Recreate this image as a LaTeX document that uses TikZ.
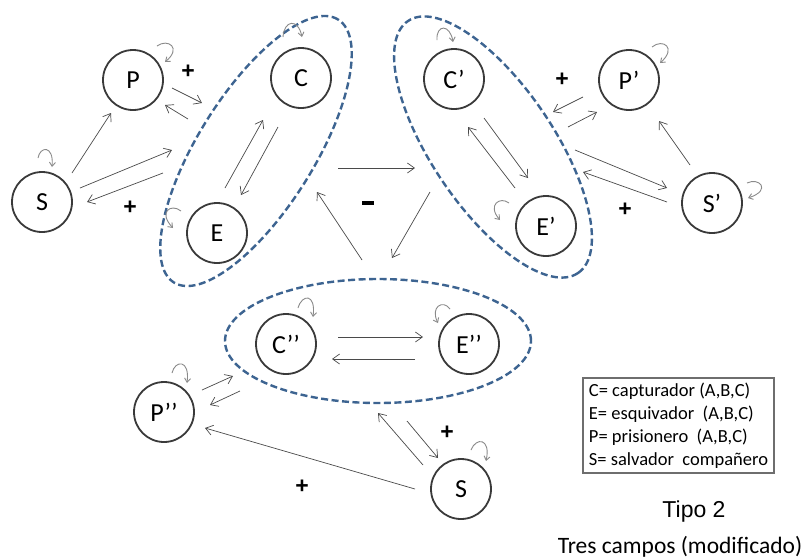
\documentclass[tikz,border=0pt]{standalone}
\usepackage{fontspec}
\setmainfont{Carlito}
\newfontfamily\arialfont{Liberation Sans}
\usetikzlibrary{arrows.meta,calc,shapes.geometric}
\definecolor{nodegray}{HTML}{3A3A3A}
\definecolor{groupblue}{HTML}{3D6491}
\definecolor{arrowgray}{HTML}{4A4A4A}
\definecolor{loopgray}{HTML}{8A8A8A}
\definecolor{keygray}{HTML}{6E6E6E}
\begin{document}
\begin{tikzpicture}[x=1pt,y=-1pt,
  agent/.style={circle, draw=nodegray, line width=1.8pt, minimum size=60pt, inner sep=0pt,
    font=\fontsize{26}{30}\selectfont},
  group/.style={ellipse, draw=groupblue, line width=2.4pt, dash pattern=on 7pt off 3.5pt,
    inner sep=0pt, outer sep=0pt},
  arr/.style={draw=arrowgray, line width=0.7pt,
    -{Straight Barb[length=7pt,width=10pt,line width=0.7pt]}},
  selfloop/.style={draw=loopgray, line width=0.9pt,
    -{Straight Barb[length=4pt,width=6pt,line width=0.9pt]}},
  sign/.style={font=\arialfont\bfseries\fontsize{23}{26}\selectfont, inner sep=0pt},
]
\useasboundingbox (0,0) rectangle (808,558);
\fill[white] (0,0) rectangle (808,558);

% groups of players
\node[group, minimum width=310pt, minimum height=116pt, rotate=58] (G1) at (256,151) {};
\node[group, minimum width=304pt, minimum height=122pt, rotate=-56] (G2) at (493,147) {};
\node[group, minimum width=306pt, minimum height=124pt] (G3) at (378,341) {};

% players
\node[agent] (P)   at (133,80)  {P};
\node[agent] (C)   at (301,78)  {C};
\node[agent] (S)   at (42,202)  {S};
\node[agent] (E)   at (217,233) {E};
\node[agent] (Cp)  at (454,79)  {C’};
\node[agent] (Pp)  at (629,80)  {P’};
\node[agent] (Sp)  at (712,203) {S’};
\node[agent] (Ep)  at (546,226) {E’};
\node[agent] (Cpp) at (286,344) {C’’};
\node[agent] (Epp) at (469,344) {E’’};
\node[agent] (Ppp) at (164,412) {P’’};
\node[agent] (Sb)  at (461,489) {S};

% first field
\draw[arr] ($(S)+(30,-29)$) -- ($(P)+(-22,33)$);
\draw[arr] ($(S)+(38,-14)$) -- ($(G1)+(-84,-1)$);
\draw[arr] ($(G1)+(-93,22)$) -- ($(S)+(45,0)$);
\draw[arr] ($(P)+(39,8)$) -- ($(G1)+(-54,-48)$);
\draw[arr] ($(G1)+(-68,-32)$) -- ($(P)+(32,25)$);
\draw[arr] ($(E)+(8,-45)$) -- ($(C)+(-38,42)$);
\draw[arr] ($(C)+(-23,49)$) -- ($(E)+(24,-38)$);

% between the fields
\draw[arr] ($(G1)+(82,17)$) -- ($(G2)+(-78,21)$);
\draw[arr] ($(G3)+(-16,-81)$) -- ($(G1)+(61,41)$);
\draw[arr] ($(G2)+(-63,45)$) -- ($(G3)+(14,-83)$);

% second field
\draw[arr] ($(Cp)+(30,39)$) -- ($(Ep)+(-18,-48)$);
\draw[arr] ($(Ep)+(-31,-38)$) -- ($(Cp)+(14,48)$);
\draw[arr] ($(Pp)+(-46,17)$) -- ($(G2)+(60,-35)$);
\draw[arr] ($(G2)+(75,-20)$) -- ($(Pp)+(-32,32)$);
\draw[arr] ($(G2)+(82,3)$) -- ($(Sp)+(-45,-15)$);
\draw[arr] ($(Sp)+(-45,-1)$) -- ($(G2)+(90,25)$);
\draw[arr] ($(Sp)+(-22,-38)$) -- ($(Pp)+(30,41)$);

% third field
\draw[arr] ($(Cpp)+(52,-7)$) -- ($(Epp)+(-46,-7)$);
\draw[arr] ($(Epp)+(-54,15)$) -- ($(Cpp)+(46,15)$);
\draw[arr] ($(Ppp)+(38,-22)$) -- ($(G3)+(-145,35)$);
\draw[arr] ($(G3)+(-138,50)$) -- ($(Ppp)+(46,-7)$);
\draw[arr] ($(Sb)+(-46,0)$) -- ($(Ppp)+(41,16)$);
\draw[arr] ($(Sb)+(-38,-24)$) -- ($(G3)+(0,72)$);
\draw[arr] ($(G3)+(29,80)$) -- ($(Sb)+(-23,-31)$);

% self loops
\draw[selfloop] ($(P)+(24,-34)$) .. controls ($(P)+(35,-42)$) and ($(P)+(49,-32)$) .. ($(P)+(32,-18)$);
\draw[selfloop] ($(S)+(-4,-44)$) .. controls ($(S)+(-2,-56)$) and ($(S)+(12,-57)$) .. ($(S)+(10,-35)$);
\draw[selfloop] ($(C)+(-18,-41)$) .. controls ($(C)+(-17,-58)$) and ($(C)+(-3,-60)$) .. ($(C)+(1,-41)$);
\draw[selfloop] ($(E)+(-36,-22)$) .. controls ($(E)+(-46,-30)$) and ($(E)+(-59,-21)$) .. ($(E)+(-44,-5)$);
\draw[selfloop] ($(Cp)+(-17,-39)$) .. controls ($(Cp)+(-18,-55)$) and ($(Cp)+(-4,-55)$) .. ($(Cp)+(-1,-37)$);
\draw[selfloop] ($(Pp)+(23,-33)$) .. controls ($(Pp)+(34,-42)$) and ($(Pp)+(48,-32)$) .. ($(Pp)+(31,-17)$);
\draw[selfloop] ($(Sp)+(35,-20)$) .. controls ($(Sp)+(47,-26)$) and ($(Sp)+(60,-13)$) .. ($(Sp)+(36,-5)$);
\draw[selfloop] ($(Ep)+(-37,-23)$) .. controls ($(Ep)+(-46,-30)$) and ($(Ep)+(-59,-21)$) .. ($(Ep)+(-46,-6)$);
\draw[selfloop] ($(Cpp)+(12,-36)$) .. controls ($(Cpp)+(16,-50)$) and ($(Cpp)+(30,-51)$) .. ($(Cpp)+(27,-27)$);
\draw[selfloop] ($(Epp)+(-19,-35)$) .. controls ($(Epp)+(-26,-45)$) and ($(Epp)+(-39,-37)$) .. ($(Epp)+(-31,-21)$);
\draw[selfloop] ($(Ppp)+(8,-39)$) .. controls ($(Ppp)+(11,-52)$) and ($(Ppp)+(26,-53)$) .. ($(Ppp)+(23,-29)$);
\draw[selfloop] ($(Sb)+(10,-39)$) .. controls ($(Sb)+(15,-52)$) and ($(Sb)+(30,-51)$) .. ($(Sb)+(25,-28)$);

% signs
\node[sign] (plus1) at (188,72)  {+};
\node[sign] (plus2) at (130,208) {+};
\node[sign] (plus3) at (562,80)  {+};
\node[sign] (plus4) at (625,210) {+};
\node[sign] (plus5) at (447,433) {+};
\node[sign] (plus6) at (302,487) {+};
\node[sign] (minus) at (368,203) {\rule{12pt}{3.5pt}};

% key
\node[draw=keygray, line width=1.3pt, minimum width=191pt, minimum height=95pt,
  align=left, inner sep=0pt, font=\fontsize{18.5}{23}\selectfont] (key) at (678.5,425.5)
  {C= capturador (A,B,C)\\E= esquivador \ (A,B,C)\\P= prisionero \ (A,B,C)\\S= salvador \ compañero};

% titles
\node[anchor=base, font=\arialfont\fontsize{23}{27}\selectfont, inner sep=0pt] (tipo) at (694,517) {Tipo 2};
\node[anchor=base, font=\fontsize{23.5}{27}\selectfont, inner sep=0pt] (campos) at (680,553) {Tres campos (modificado)};
\end{tikzpicture}
\end{document}
